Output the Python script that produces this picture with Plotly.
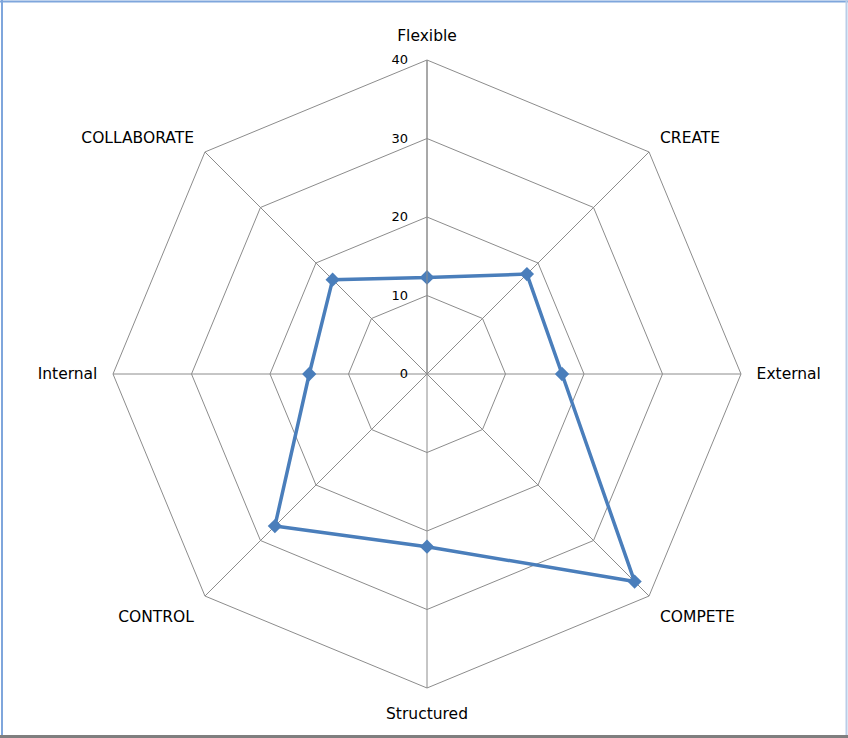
import plotly.graph_objects as go

categories = ["Flexible", "CREATE", "External", "COMPETE", "Structured", "CONTROL", "Internal", "COLLABORATE"]
values = [12.3, 18, 17.2, 37.4, 22, 27.4, 15, 17]
radial_ticks = [0, 10, 20, 30, 40]

cats_closed = categories + [categories[0]]
vals_closed = values + [values[0]]

fig = go.Figure()
fig.add_trace(go.Scatterpolar(
    r=vals_closed,
    theta=cats_closed,
    mode="lines+markers",
    line=dict(color="#4A7EBB", width=3.5),
    marker=dict(symbol="diamond", size=11, color="#4A7EBB"),
    showlegend=False,
))

FONT = "DejaVu Sans, sans-serif"

W, H = 848, 738
L, R, T, B = 113, 107, 60, 50
PW = W - L - R  # 628
PH = H - T - B  # 628


def px_x(p):
    return (p - L) / PW


def px_y(p):
    return (H - B - p) / PH


fig.update_layout(
    width=W, height=H,
    margin=dict(l=L, r=R, t=T, b=B),
    paper_bgcolor="white",
    plot_bgcolor="white",
    font=dict(family=FONT, size=15, color="#000000"),
    polar=dict(
        bgcolor="white",
        gridshape="linear",
        domain=dict(x=[0, 1], y=[0, 1]),
        angularaxis=dict(
            direction="clockwise",
            rotation=90,
            gridcolor="#8C8C8C",
            gridwidth=1,
            linecolor="#8C8C8C",
            linewidth=1,
            showline=True,
            ticks="outside",
            ticklen=12,
            tickcolor="rgba(0,0,0,0)",
            tickfont=dict(family=FONT, size=15.5, color="#000000"),
        ),
        radialaxis=dict(
            range=[0, 40],
            tickvals=radial_ticks,
            ticktext=[str(t) for t in radial_ticks],
            angle=90,
            tickangle=90,
            side="counterclockwise",
            gridcolor="#8C8C8C",
            gridwidth=1,
            linecolor="#8C8C8C",
            linewidth=1,
            showline=True,
            ticks="outside",
            ticklen=14,
            tickcolor="rgba(0,0,0,0)",
            tickfont=dict(family=FONT, size=13, color="#000000"),
        ),
    ),
    shapes=[
        dict(type="line", xref="paper", yref="paper",
             x0=px_x(0), x1=px_x(W), y0=px_y(1.5), y1=px_y(1.5),
             line=dict(color="#7FA6DC", width=2)),
        dict(type="line", xref="paper", yref="paper",
             x0=px_x(2), x1=px_x(2), y0=px_y(H), y1=px_y(0),
             line=dict(color="#7FA6DC", width=2)),
        dict(type="line", xref="paper", yref="paper",
             x0=px_x(W - 1.5), x1=px_x(W - 1.5), y0=px_y(H), y1=px_y(0),
             line=dict(color="#B9CDE8", width=2)),
        dict(type="line", xref="paper", yref="paper",
             x0=px_x(0), x1=px_x(W), y0=px_y(H - 1.5), y1=px_y(H - 1.5),
             line=dict(color="#7F7F7F", width=3)),
    ],
)

fig.write_html(
    "out.html",
    config={"displayModeBar": False},
    post_script="document.body.style.margin='0';document.body.style.overflow='hidden';",
)
